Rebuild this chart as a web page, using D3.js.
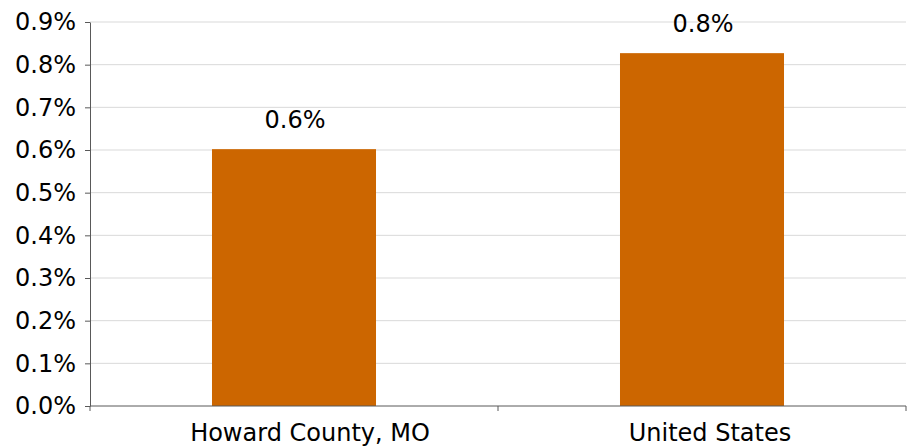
<!DOCTYPE html>
<html>
<head>
<meta charset="utf-8">
<script src="https://cdn.jsdelivr.net/npm/d3@7"></script>
<style>
  body { margin: 0; background: #fff; }
  text { font-family: "DejaVu Sans", sans-serif; fill: #000; }
</style>
</head>
<body>
<div id="chart"></div>
<script>
var categories = ["Howard County, MO", "United States"];
var values = [0.00602, 0.00827];
var yTicks = [0, 0.001, 0.002, 0.003, 0.004, 0.005, 0.006, 0.007, 0.008, 0.009];

var width = 914, height = 446;
var margin = {top: 22, right: 8, bottom: 40, left: 90};
var fontSize = "24px";
// category labels sit a little right of the band centre in the original
var labelShift = [16, 8];

var svg = d3.select("#chart").append("svg")
    .attr("width", width)
    .attr("height", height);

var x = d3.scaleBand()
    .domain(categories)
    .range([margin.left, width - margin.right])
    .padding(0);

var y = d3.scaleLinear()
    .domain([0, 0.009])
    .range([height - margin.bottom, margin.top]);

var fmt = d3.format(".1%");

// gridlines
svg.append("g")
    .selectAll("line")
    .data(yTicks.slice(1))
    .enter().append("line")
    .attr("x1", margin.left)
    .attr("x2", width - margin.right)
    .attr("y1", function (d) { return y(d); })
    .attr("y2", function (d) { return y(d); })
    .attr("stroke", "#d9d9d9")
    .attr("stroke-width", 1);

// bars
var barW = x.bandwidth() * 0.402;
svg.append("g")
    .selectAll("rect")
    .data(values)
    .enter().append("rect")
    .attr("x", function (d, i) { return x(categories[i]) + x.bandwidth() / 2 - barW / 2; })
    .attr("y", function (d) { return y(d); })
    .attr("width", barW)
    .attr("height", function (d) { return y(0) - y(d); })
    .attr("fill", "#cc6600");

// value labels
svg.append("g")
    .selectAll("text")
    .data(values)
    .enter().append("text")
    .attr("x", function (d, i) { return x(categories[i]) + x.bandwidth() / 2 + 1; })
    .attr("y", function (d) { return y(d) - 21; })
    .attr("text-anchor", "middle")
    .style("font-size", fontSize)
    .text(function (d) { return fmt(Math.round(d * 1000) / 1000); });

// y axis
var yAxis = svg.append("g")
    .attr("transform", "translate(" + margin.left + ",0)")
    .call(d3.axisLeft(y).tickValues(yTicks).tickFormat(fmt).tickSize(5).tickSizeOuter(0).tickPadding(9));
yAxis.selectAll("text").style("font-size", fontSize).attr("fill", "#000");
yAxis.selectAll("line").attr("stroke", "#595959");
yAxis.select(".domain").attr("stroke", "#595959");

// x axis
var xEdges = [margin.left, margin.left + x.bandwidth(), width - margin.right];
var xAxis = svg.append("g")
    .attr("transform", "translate(0," + y(0) + ")");
xAxis.append("line")
    .attr("x1", margin.left).attr("x2", width - margin.right)
    .attr("stroke", "#595959");
xAxis.selectAll(".tk")
    .data(xEdges)
    .enter().append("line")
    .attr("class", "tk")
    .attr("x1", function (d) { return d; })
    .attr("x2", function (d) { return d; })
    .attr("y1", 0).attr("y2", 5)
    .attr("stroke", "#595959");
xAxis.selectAll("text")
    .data(categories)
    .enter().append("text")
    .attr("x", function (d, i) { return x(d) + x.bandwidth() / 2 + labelShift[i]; })
    .attr("y", 35)
    .attr("text-anchor", "middle")
    .style("font-size", fontSize)
    .text(function (d) { return d; });
</script>
</body>
</html>
